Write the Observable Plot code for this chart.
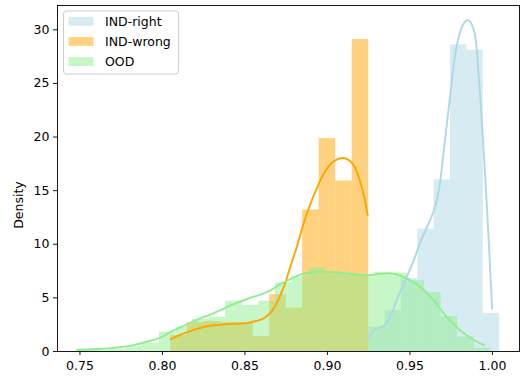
<!DOCTYPE html>
<html>
<head>
<meta charset="utf-8">
<script src="https://cdn.jsdelivr.net/npm/d3@7"></script>
<script src="https://cdn.jsdelivr.net/npm/@observablehq/plot@0.6"></script>
<style>
  html, body { margin: 0; padding: 0; background: #fff; }
  #chart { width: 521px; height: 376px; }
</style>
</head>
<body>
<div id="chart"></div>
<script>
// ---- Data ----
const seriesNames = ["IND-right", "IND-wrong", "OOD"];
const seriesColors = ["#add8e6", "#ffa500", "#90ee90"];

const xTicks = [0.75, 0.80, 0.85, 0.90, 0.95, 1.00];
const yTicks = [0, 5, 10, 15, 20, 25, 30];

// Histogram bins: start, width, densities
const rightStart = 0.925, rightWidth = 0.00992;
const rightDensity = [2.25, 3.8, 6.8, 11.4, 16.0, 28.6, 28.1, 3.55];

const wrongStart = 0.805, wrongWidth = 0.01;
const wrongDensity = [1.5, 2.7, 2.8, 2.7, 2.7, 1.4, 5.3, 4.05, 13.2, 19.85, 15.9, 29.1];

const oodStart = 0.748, oodWidth = 0.01004;
const oodDensity = [0.15, 0.1, 0.2, 0.45, 0.75, 1.8, 2.3, 3.0, 3.2, 4.7, 4.3, 4.7, 6.4,
                    7.0, 7.8, 7.4, 7.3, 7.0, 7.4, 7.3, 6.6, 5.5, 3.25, 1.35, 0.3];

// KDE curves (sampled points)
const kdeRightX = [0.925, 0.9291, 0.9341, 0.9382, 0.9422, 0.9462, 0.9523, 0.9553, 0.96, 0.9644, 0.9675,
                   0.9705, 0.9745, 0.9786, 0.9826, 0.9853, 0.9887, 0.9917, 0.9944, 0.9968, 0.9998];
const kdeRightY = [1.2, 2.1, 2.4, 3.3, 4.9, 6.3, 8.5, 9.8, 11.5, 13.1, 15.0,
                   18.7, 24.0, 28.7, 30.6, 30.9, 30.0, 25.6, 19.4, 13.1, 4.0];

const kdeWrongX = [0.805, 0.815, 0.827, 0.839, 0.851, 0.857, 0.8615, 0.866, 0.8695, 0.8735, 0.8775, 0.8815,
                   0.8855, 0.8895, 0.8935, 0.8975, 0.9015, 0.9055, 0.9095, 0.9135, 0.9165, 0.9195, 0.922, 0.9244];
const kdeWrongY = [1.15, 1.8, 2.35, 2.55, 2.65, 2.85, 3.1, 3.7, 4.6, 6.0, 7.9, 9.8,
                   11.9, 13.7, 15.2, 16.5, 17.4, 17.9, 18.05, 17.8, 17.2, 16.0, 14.6, 12.7];

const kdeOodX = [0.7483, 0.7685, 0.7826, 0.7927, 0.7988, 0.8048, 0.8109, 0.817, 0.823, 0.8291, 0.8352,
                 0.8412, 0.8473, 0.8533, 0.8594, 0.8655, 0.8715, 0.8776, 0.8836, 0.8897, 0.8958, 0.9048,
                 0.9139, 0.9241, 0.9321, 0.9402, 0.9483, 0.9564, 0.9644, 0.9725, 0.9806, 0.9887, 0.9947];
const kdeOodY = [0.16, 0.3, 0.6, 1.0, 1.3, 1.8, 2.25, 2.7, 3.1, 3.45, 3.85,
                 4.3, 4.65, 5.0, 5.3, 5.7, 6.3, 6.75, 7.2, 7.35, 7.45, 7.4,
                 7.25, 7.1, 7.25, 7.25, 6.8, 6.0, 4.75, 3.2, 1.95, 1.07, 0.6];

// ---- Build tables ----
function bins(start, width, dens) {
  return dens.map((d, i) => ({x1: start + i * width, x2: start + (i + 1) * width, d}));
}
function pts(xs, ys) { return xs.map((x, i) => ({x, y: ys[i]})); }

const rightBins = bins(rightStart, rightWidth, rightDensity);
const wrongBins = bins(wrongStart, wrongWidth, wrongDensity);
const oodBins = bins(oodStart, oodWidth, oodDensity);

const font = "DejaVu Sans, sans-serif";

const chart = Plot.plot({
  width: 521,
  height: 376,
  marginLeft: 57,
  marginRight: 2,
  marginTop: 5,
  marginBottom: 25,
  style: {fontFamily: font, fontSize: "12.5px", color: "#000", background: "#fff"},
  x: {domain: [0.7364, 1.0164]},
  y: {domain: [0, 32.27]},
  marks: [
    Plot.rectY(rightBins, {x1: "x1", x2: "x2", y: "d", fill: seriesColors[0], fillOpacity: 0.5}),
    Plot.rectY(wrongBins, {x1: "x1", x2: "x2", y: "d", fill: seriesColors[1], fillOpacity: 0.5}),
    Plot.rectY(oodBins, {x1: "x1", x2: "x2", y: "d", fill: seriesColors[2], fillOpacity: 0.5}),
    Plot.line(pts(kdeRightX, kdeRightY), {x: "x", y: "y", stroke: seriesColors[0], strokeWidth: 1.9, curve: "catmull-rom"}),
    Plot.line(pts(kdeWrongX, kdeWrongY), {x: "x", y: "y", stroke: seriesColors[1], strokeWidth: 1.9, curve: "catmull-rom"}),
    Plot.line(pts(kdeOodX, kdeOodY), {x: "x", y: "y", stroke: seriesColors[2], strokeWidth: 1.9, curve: "catmull-rom"}),
    Plot.frame({stroke: "#000", strokeWidth: 0.9}),
    Plot.axisX(xTicks, {tickSize: 4, tickPadding: 6, tickFormat: d3.format(".2f"), label: null, fontSize: 12.5, strokeWidth: 0.9}),
    Plot.axisY(yTicks, {tickSize: 4, tickPadding: 4, label: null, fontSize: 12.5, strokeWidth: 0.9})
  ]
});

const svg = d3.select(chart);

// y-axis title
svg.append("text")
  .attr("transform", "translate(18.5,205) rotate(-90)")
  .attr("text-anchor", "middle")
  .attr("dy", "0.35em")
  .attr("font-family", font)
  .attr("font-size", 12.5)
  .attr("fill", "#000")
  .text("Density");

// legend
const lg = svg.append("g");
lg.append("rect")
  .attr("x", 63.5).attr("y", 11).attr("width", 115).attr("height", 63)
  .attr("rx", 3).attr("fill", "#fff").attr("fill-opacity", 0.8)
  .attr("stroke", "#cccccc").attr("stroke-width", 1);
const rowY = [21.3, 41.5, 61.5];
seriesNames.forEach((name, i) => {
  lg.append("rect")
    .attr("x", 68.5).attr("y", rowY[i] - 4.4).attr("width", 25).attr("height", 8.8)
    .attr("fill", seriesColors[i]).attr("fill-opacity", 0.5);
  lg.append("text")
    .attr("x", 105).attr("y", rowY[i]).attr("dy", "0.36em")
    .attr("text-anchor", "start")
    .attr("font-family", font).attr("font-size", 12.5).attr("fill", "#000")
    .text(name);
});

document.getElementById("chart").appendChild(chart);
</script>
</body>
</html>
